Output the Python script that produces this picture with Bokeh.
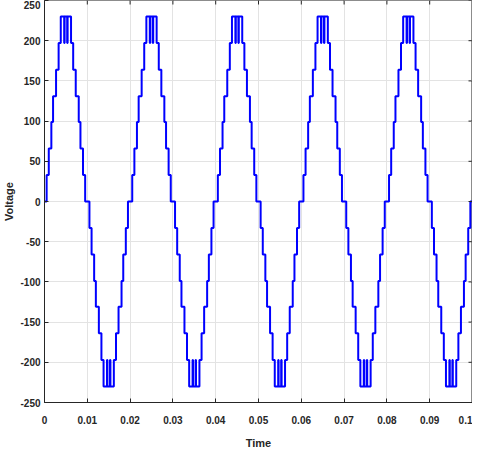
import numpy as np
from bokeh.plotting import figure
from bokeh.models import FixedTicker, Range1d
from bokeh.embed import file_html
from bokeh.resources import INLINE

# ---- data ----
# switching instants (s) within one positive half-cycle and the level after each switch (V)
half_edge_times = [0.0000, 0.0005, 0.0010, 0.0016, 0.0020, 0.0027, 0.0033, 0.0038,
                   0.0046, 0.0047, 0.0053, 0.0054, 0.0062, 0.0067, 0.0073, 0.0080,
                   0.0084, 0.0090, 0.0095]
half_edge_levels = [0, 33, 66, 99, 131, 164, 197, 230,
                    197, 230, 197, 230, 197, 164, 131, 99,
                    66, 33, 0]
half_period = 0.01
n_halves = 10
end_time = 0.1

x_ticks = [0, 0.01, 0.02, 0.03, 0.04, 0.05, 0.06, 0.07, 0.08, 0.09, 0.1]
x_tick_labels = ["0", "0.01", "0.02", "0.03", "0.04", "0.05", "0.06", "0.07", "0.08", "0.09", "0.1"]
y_ticks = [-250, -200, -150, -100, -50, 0, 50, 100, 150, 200, 250]
y_tick_labels = ["-250", "-200", "-150", "-100", "-50", "0", "50", "100", "150", "200", "250"]

# ---- build the waveform (positive / negative half-cycles alternate) ----
xs, ys = [], []
for h in range(n_halves):
    sign = 1 if h % 2 == 0 else -1
    for t, lv in zip(half_edge_times, half_edge_levels):
        xs.append(h * half_period + t)
        ys.append(sign * lv)
xs.append(end_time)
ys.append(0)

FONT = "Liberation Sans"
x_min, x_max = x_ticks[0], x_ticks[-1]
y_min, y_max = y_ticks[0], y_ticks[-1]

p = figure(width=472, height=451, output_backend="svg", toolbar_location=None,
           x_range=Range1d(x_min, x_max), y_range=Range1d(y_min, y_max),
           min_border_left=33, min_border_right=0, min_border_top=0, min_border_bottom=38)

p.xgrid.ticker = FixedTicker(ticks=x_ticks)
p.ygrid.ticker = FixedTicker(ticks=y_ticks)
p.grid.grid_line_color = "#e3e3e3"
p.grid.grid_line_width = 1

p.step(xs, ys, mode="after", line_color="#0000ff", line_width=2)

# MATLAB-style inward ticks on the top and right edges of the box
p.scatter(x=x_ticks, y=[y_max] * len(x_ticks), marker="dash", angle=np.pi / 2,
          size=8, line_color="#262626", line_width=1)
p.scatter(x=[x_max] * len(y_ticks), y=y_ticks, marker="dash",
          size=8, line_color="#262626", line_width=1)

p.outline_line_color = "#8c8c8c"
p.outline_line_width = 1
p.background_fill_color = "white"
p.border_fill_color = "white"

for ax in (p.xaxis[0], p.yaxis[0]):
    ax.major_tick_in = 4
    ax.major_tick_out = 0
    ax.minor_tick_in = 0
    ax.minor_tick_out = 0
    ax.axis_line_color = "#262626"
    ax.major_tick_line_color = "#262626"
    ax.major_label_text_font = FONT
    ax.major_label_text_font_style = "bold"
    ax.major_label_text_font_size = "10px"
    ax.major_label_text_color = "#262626"
    ax.axis_label_text_font = FONT
    ax.axis_label_text_font_style = "bold"
    ax.axis_label_text_font_size = "11px"
    ax.axis_label_text_color = "#262626"

p.xaxis[0].ticker = FixedTicker(ticks=x_ticks)
p.xaxis[0].major_label_overrides = {t: l for t, l in zip(x_ticks, x_tick_labels)}
p.xaxis[0].major_label_standoff = 13
p.xaxis[0].axis_label = "Time"
p.xaxis[0].axis_label_standoff = 10

p.yaxis[0].ticker = FixedTicker(ticks=y_ticks)
p.yaxis[0].major_label_overrides = {t: l for t, l in zip(y_ticks, y_tick_labels)}
p.yaxis[0].major_label_standoff = 4
p.yaxis[0].axis_label = "Voltage"
p.yaxis[0].axis_label_standoff = 2

open("out.html", "w").write(file_html(p, INLINE))
